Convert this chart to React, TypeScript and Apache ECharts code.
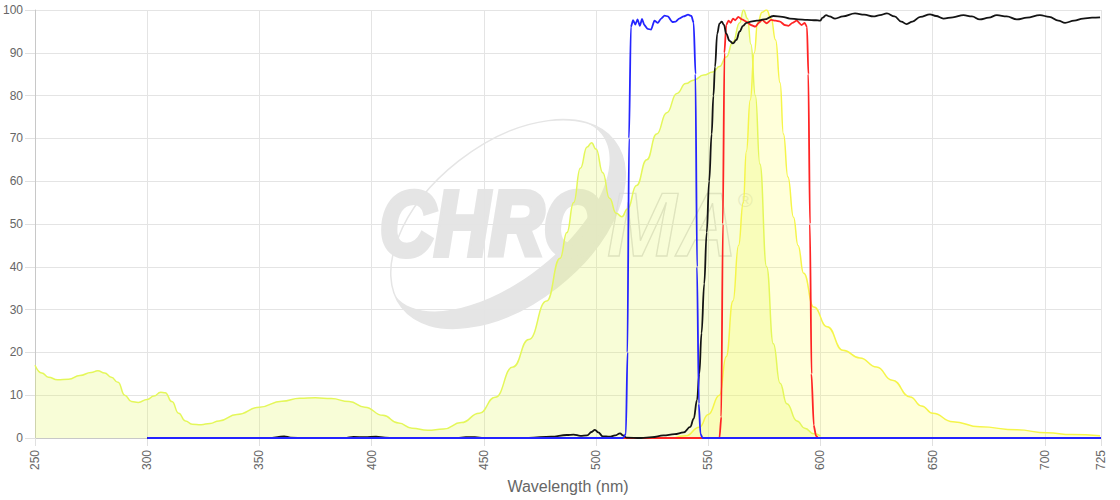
import { useEffect, useRef } from 'react';
import * as echarts from 'echarts';

// spectra, [wavelength nm, %]
const excitation = [
  [250, 17], [253, 15.2], [256, 14.2], [260, 13.6], [265, 13.7], [270, 14.6], [275, 15.3], [278, 15.7],
  [281, 15.2], [284, 14.2], [287, 13], [290, 10], [293, 8.5], [296, 8.3], [300, 9], [303, 9.8],
  [306, 10.7], [308, 10.6], [311, 8.5], [314, 5.8], [317, 4], [320, 3.2], [324, 3.1], [328, 3.4],
  [332, 4], [340, 5.5], [350, 7.2], [360, 8.6], [368, 9.3], [375, 9.4], [382, 9.2], [390, 8.5],
  [397, 7.2], [405, 5.3], [412, 3.5], [418, 2.3], [425, 1.8], [432, 2.1], [440, 3.6], [448, 5.8],
  [455, 9.5], [463, 16.6], [470, 23], [478, 32], [484, 42], [487, 48], [490, 55], [493, 63],
  [496, 68], [498, 69], [500, 67.5], [503, 62], [506, 56], [509, 52.5], [511.5, 51.7], [514, 53.5],
  [518, 59], [522.6, 65], [527, 71], [531.5, 76], [536, 80.5], [540, 82.8], [543.4, 83.6], [548, 84.8],
  [552, 85.5], [555, 86.8], [558, 89], [561, 92.5], [564, 97], [565.7, 100], [567.5, 98], [569, 92],
  [571, 80], [573, 64], [576, 40], [579, 22], [582, 12.8], [585, 8], [589.5, 4], [593, 2.3],
  [597, 1], [600, 0.5],
];

const emission = [
  [535, 0], [540, 0.5], [546, 2.5], [550, 5.5], [555, 10], [558, 19], [561, 32], [563.5, 45],
  [565.6, 55], [567, 67], [568.7, 79], [570.5, 90], [572, 97], [574, 99.5], [576, 100], [578, 98],
  [580, 93], [582, 83], [583.5, 71], [585.5, 61], [588, 51.6], [590, 45], [592.5, 38.5], [597, 30.6],
  [603, 26], [610, 20.5], [617.6, 18.7], [625, 16.6], [632, 13.5], [640, 9.6], [645, 7.5], [650, 5.8],
  [659, 3.8], [671, 2.6], [687.5, 1.9], [701, 1.2], [712, 0.8], [724.6, 0.5],
];

const exciterFilter = [
  [300, 0], [512, 0], [513.3, 1], [514, 20], [514.7, 70], [515.5, 96], [516.5, 97.6], [517.5, 96.6],
  [518.5, 97.8], [519.5, 96.3], [520.5, 97.9], [521.5, 96.5], [523, 95.6], [524.5, 95.4], [526, 97.5],
  [527.5, 97], [529, 98], [530.5, 98.7], [532, 98.5], [534, 97.2], [535.5, 97.3], [537, 98], [539, 98.5],
  [541, 98.9], [542.5, 98.6], [543.5, 97], [544.3, 85], [545, 40], [545.8, 8], [546.5, 1], [547.5, 0],
  [725, 0],
];

const emitterFilter = [
  [300, 0], [555, 0], [555.8, 5], [556.5, 50], [557.2, 90], [558, 96.5], [559, 97.5], [560, 97],
  [561, 98], [562, 97.6], [563.4, 98.4], [565, 97.8], [567, 97.3], [569, 96.5], [571, 96.1], [572.5, 97],
  [574, 97.7], [576, 96.9], [578, 97.7], [580, 97.5], [582, 97.3], [584, 96.5], [585.7, 96.3], [587.5, 97],
  [589.4, 97.5], [591.6, 96.5], [593, 97], [594, 96], [594.6, 85], [595.3, 50], [596, 15], [597, 3],
  [598, 0.5], [599, 0], [725, 0],
];

const dichroic = [
  [300, 0], [355, 0], [358, 0.2], [361, 0.4], [364, 0.1], [370, 0], [388, 0], [392, 0.25],
  [397, 0.2], [402, 0.3], [406, 0.1], [410, 0], [438, 0], [442, 0.2], [446, 0.2], [450, 0],
  [470, 0.05], [480, 0.3], [487, 0.7], [490, 0.8], [493, 0.5], [496, 0.6], [498, 1.4], [499.5, 1.9],
  [501, 1.3], [503, 0.4], [506, 0.3], [508.5, 0.6], [510.7, 1.1], [512, 0.6], [513.5, 0.1], [520, 0],
  [525, 0.2], [530, 0.6], [535, 0.9], [539, 1.3], [542, 2.6], [543.5, 4.5], [545, 8.9], [546, 15],
  [547, 24.5], [548.2, 36], [549.3, 48], [550.4, 60], [551.5, 71], [552.3, 80], [553, 86.7], [554, 94.5],
  [555, 96.8], [556, 97.3], [557, 96.5], [558, 94.5], [559.5, 92.8], [561, 92.2], [562.5, 93], [564, 95],
  [565.5, 96.3], [567, 97], [569, 97.3], [571.6, 97.5], [575, 97.8], [579, 98.6], [583, 98.4], [586.4, 98],
  [590, 97.8], [594, 97.7], [598, 97.6], [599.8, 97.5], [601, 98.2], [602.5, 98.8], [604, 98.5], [606.5, 98],
  [610, 98.5], [615.4, 99.2], [619.5, 98.9], [623.6, 98.5], [626.5, 98.8], [629.6, 99.2], [633, 98.5], [636, 97.3],
  [638.4, 96.7], [641, 97.3], [644.5, 98.4], [648.8, 99], [651.5, 98.6], [654.8, 98], [659, 98.3], [663.7, 98.8],
  [667.5, 98.5], [671, 97.8], [675, 98.2], [678.6, 98.8], [683, 98.5], [687.5, 97.8], [692, 98.2], [697.8, 98.8],
  [702, 98.4], [706, 97.5], [709, 97], [713, 97.5], [717, 98], [721, 98.2], [724.6, 98.3],
];

const FONT = "'Liberation Sans', Arial, sans-serif";
const WM = '#e5e5e5';

function App() {
  const chartRef = useRef<HTMLDivElement>(null);

  useEffect(() => {
    document.body.style.margin = '0';
    if (!chartRef.current) return;
    const chart = echarts.init(chartRef.current, null, { renderer: 'svg' });

    const lineSeries = (data: number[][], color: string, width: number, area?: string, smooth = 0.5) => ({
      type: 'line',
      data,
      showSymbol: false,
      smooth,
      smoothMonotone: 'x',
      lineStyle: { color, width },
      areaStyle: area ? { color: area, origin: 'start' } : undefined,
      emphasis: { disabled: true },
    });

    chart.setOption({
      animation: false,
      grid: { left: 35, right: 19, top: 10, bottom: 62, outerBoundsMode: 'none' },
      xAxis: {
        type: 'value',
        min: 250,
        max: 725,
        interval: 50,
        name: 'Wavelength (nm)',
        nameLocation: 'middle',
        nameGap: 40,
        nameTextStyle: { color: '#666', fontSize: 16, fontFamily: FONT },
        axisLine: { show: true, lineStyle: { color: '#c8c8c8' } },
        axisTick: { show: true, length: 8, lineStyle: { color: '#e0e0e0' } },
        axisLabel: { rotate: 90, margin: 12, color: '#666', fontSize: 12, fontFamily: FONT },
        splitLine: { show: true, lineStyle: { color: '#e4e4e4' } },
      },
      yAxis: {
        type: 'value',
        min: 0,
        max: 100,
        interval: 10,
        axisLine: { show: true, lineStyle: { color: '#c8c8c8' } },
        axisTick: { show: true, length: 10, lineStyle: { color: '#e0e0e0' } },
        axisLabel: { margin: 12, color: '#666', fontSize: 12, fontFamily: FONT },
        splitLine: { show: true, lineStyle: { color: '#e4e4e4' } },
      },
      graphic: [
        {
          type: 'group',
          x: 508,
          y: 224,
          rotation: (38 * Math.PI) / 180,
          z: -10,
          silent: true,
          children: [
            { type: 'ellipse', z: -10, shape: { cx: 0, cy: 0, rx: 135, ry: 80 }, style: { fill: WM } },
            { type: 'ellipse', z: -10, shape: { cx: -2, cy: -13, rx: 131, ry: 67 }, style: { fill: '#fff' } },
            { type: 'ellipse', z: -10, shape: { cx: 0, cy: 0, rx: 135, ry: 80 }, style: { fill: 'none', stroke: WM, lineWidth: 1.5 } },
          ],
        },
        {
          type: 'text',
          x: 380,
          y: 224,
          scaleX: 0.84,
          z: -9,
          silent: true,
          style: {
            text: 'CHRO',
            fill: WM,
            stroke: WM,
            lineWidth: 6,
            lineJoin: 'round',
            font: `italic bold 90px ${FONT}`,
            textAlign: 'left',
            textVerticalAlign: 'middle',
          },
        },
        {
          type: 'text',
          x: 607,
          y: 224,
          scaleX: 0.93,
          z: -9,
          silent: true,
          style: {
            text: 'MA',
            fill: 'none',
            stroke: '#dedede',
            lineWidth: 1.4,
            font: `italic bold 90px ${FONT}`,
            textAlign: 'left',
            textVerticalAlign: 'middle',
          },
        },
        {
          type: 'text',
          x: 738,
          y: 200,
          z: -9,
          silent: true,
          style: { text: '®', fill: WM, font: `20px ${FONT}`, textAlign: 'left', textVerticalAlign: 'middle' },
        },
      ],
      series: [
        lineSeries(excitation, '#e4f75a', 1.5, 'rgba(228,247,90,0.35)'),
        lineSeries(emission, '#f5f54a', 1.5, 'rgba(255,255,80,0.3)'),
        lineSeries(emitterFilter, '#ff2424', 1.8, undefined, 0.2),
        lineSeries(dichroic, '#141414', 1.8, undefined, 0.4),
        lineSeries(exciterFilter, '#2424ff', 1.8, undefined, 0.2),
      ],
    });

    return () => chart.dispose();
  }, []);

  return <div ref={chartRef} style={{ width: 1120, height: 500 }} />;
}

export default App;
